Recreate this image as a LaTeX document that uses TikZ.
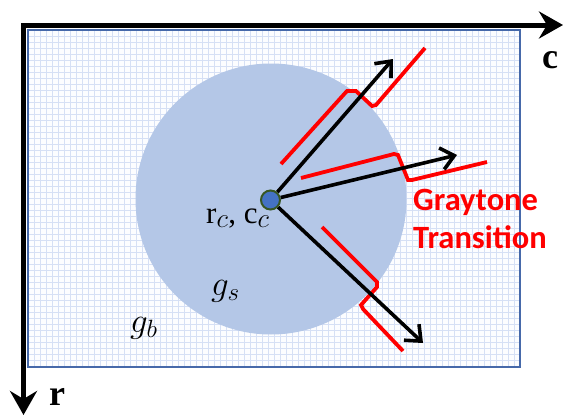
\RequirePackage{fix-cm}
\documentclass[tikz,border=0pt]{standalone}
\usepackage{fontspec}
\setmainfont{Liberation Serif}
\newfontfamily\calib{Carlito}
\usetikzlibrary{arrows.meta}
\DeclareMathSizes{31}{31}{27}{20}
\DeclareMathSizes{35}{35}{25}{19}
\definecolor{circfill}{RGB}{180,199,231}
\definecolor{dotfill}{RGB}{68,114,196}
\definecolor{dotline}{RGB}{56,87,35}
\definecolor{gridcol}{RGB}{214,224,245}
\definecolor{rectline}{RGB}{70,105,170}
\definecolor{bgfill}{RGB}{252,253,255}
\definecolor{tred}{RGB}{255,0,0}
\tikzset{
  axisline/.style={line width=5pt, line join=miter, {Stealth[length=24pt,width=27pt,inset=8pt]}-{Stealth[length=24pt,width=27pt,inset=8pt]}},
  gridline/.style={draw=gridcol, line width=0.8pt},
  ray/.style={line width=3.6pt, -{Straight Barb[length=13pt,width=22pt]}},
  transline/.style={draw=tred, line width=3.8pt, line join=miter},
  axislabel/.style={font=\fontsize{36}{40}\selectfont\bfseries, inner sep=0pt},
  mathlabel/.style={inner sep=0pt, anchor=base west},
}
\begin{document}
\begin{tikzpicture}[x=1pt,y=-1pt]
\useasboundingbox (0,0) rectangle (563,415);
% background rectangle with grid
\fill[bgfill] (28,30) rectangle (520,367);
\begin{scope}
\clip (28,30) rectangle (520,367);
\foreach \i in {0,...,82} {\draw[gridline] ({28+\i*6},30) -- ({28+\i*6},367);}
\foreach \j in {0,...,57} {\draw[gridline] (28,{30+\j*6}) -- (520,{30+\j*6});}
\end{scope}
\draw[rectline, line width=1.3pt] (28,30) rectangle (520,367);
% axes
\coordinate (rtip) at (23.5,415);
\coordinate (corner) at (23.5,25);
\coordinate (ctip) at (563,25);
\draw[axisline] (rtip) -- (corner) -- (ctip);
\node[axislabel] (clab) at (550,60) {c};
\node[axislabel] (rlab) at (57,397) {r};
% region
\node[circle, fill=circfill, minimum size=271pt, inner sep=0pt] (region) at (271,199) {};
% transition lines
\draw[transline] (281,164) -- (347,91) -- (356,91) -- (372,106) -- (376,105) -- (425,48);
\draw[transline] (301,178) -- (394,154) -- (398,155) -- (408,180) -- (412,180) -- (487,162);
\draw[transline] (322,227) -- (377,282) -- (377,287) -- (361,305) -- (363,309) -- (403,351);
% rays
\node[circle, fill=dotfill, draw=dotline, line width=2pt, minimum size=19pt, inner sep=0pt] (cen) at (270.5,200) {};
\coordinate (t1) at (393,59);
\coordinate (t2) at (457,155);
\coordinate (t3) at (423,343);
\draw[ray] (cen) -- (t1);
\draw[ray] (cen) -- (t2);
\draw[ray] (cen) -- (t3);
% labels
\node[mathlabel, font=\fontsize{31}{35}\selectfont] (cclab) at (206,223) {r$_c$, c$_c$};
\node[mathlabel, font=\fontsize{35}{39}\selectfont] (gslab) at (211,295) {$g_s$};
\node[mathlabel, font=\fontsize{35}{39}\selectfont] (gblab) at (130,332) {$g_b$};
\node[anchor=base west, inner sep=0pt, text=tred, font=\calib\bfseries\fontsize{32.5}{38}\selectfont] (gt) at (413,210)
  {\begin{tabular}[t]{@{}l@{}}Graytone\\Transition\end{tabular}};
\end{tikzpicture}
\end{document}
